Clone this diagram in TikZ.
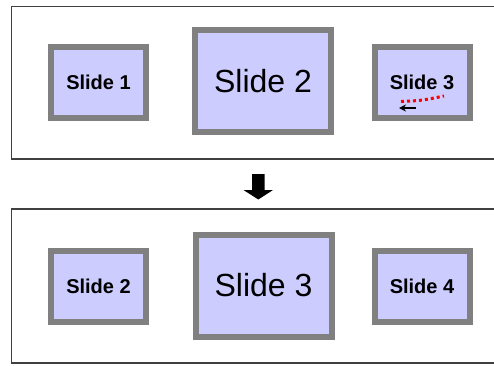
\documentclass[tikz,border=0pt]{standalone}
\usepackage{fontspec}
\setmainfont{Liberation Sans}
\usetikzlibrary{arrows.meta}
\definecolor{slidefill}{HTML}{CCCCFF}
\definecolor{slideedge}{HTML}{808080}
\definecolor{panelline}{HTML}{404040}
\tikzset{
  small slide/.style={draw=slideedge, fill=slidefill, line width=6pt,
    minimum width=95pt, minimum height=71pt, inner sep=0pt,
    font=\fontsize{20}{24}\selectfont\bfseries},
  big slide/.style={draw=slideedge, fill=slidefill, line width=6pt,
    minimum width=136pt, minimum height=102pt, inner sep=0pt,
    font=\fontsize{32}{36}\selectfont},
  panel/.style={draw=panelline, line width=1.5pt},
}
\begin{document}
\begin{tikzpicture}[x=1pt,y=-1pt]
\useasboundingbox (0,0) rectangle (494,365);
% panels
\draw[panel] (497,6.5) -- (11.5,6.5) -- (11.5,159) -- (497,159);
\draw[panel] (497,209) -- (11.5,209) -- (11.5,363) -- (497,363);
% top row
\node[small slide] (t1) at (98.5,82.5) {Slide 1};
\node[big slide]   (t2) at (263,81) {Slide 2};
\node[small slide] (t3) at (422,82) {Slide 3};
% annotation in slide 3
\coordinate (r1) at (401,101.5);
\coordinate (r2) at (444,96);
\draw[red, line width=3pt, dash pattern=on 3pt off 3pt] (r1) .. controls (422,100.5) .. (r2);
\coordinate (a1) at (416,108);
\coordinate (a2) at (399,108);
\draw[line width=1.3pt, -{Stealth[length=7pt,width=7pt]}] (a1) -- (a2);
% down arrow
\fill[black] (252,174) -- (264.5,174) -- (264.5,190) -- (273,190) -- (258.3,199.5) -- (243.5,190) -- (252,190) -- cycle;
% bottom row
\node[small slide] (b1) at (98.5,286.5) {Slide 2};
\node[big slide]   (b2) at (263.5,285.5) {Slide 3};
\node[small slide] (b3) at (422,286.5) {Slide 4};
\end{tikzpicture}
\end{document}
